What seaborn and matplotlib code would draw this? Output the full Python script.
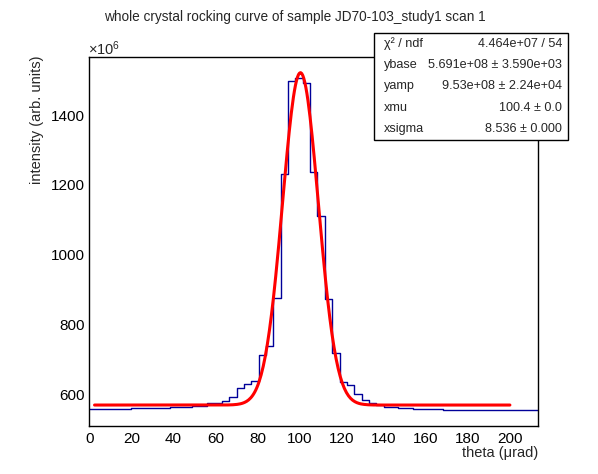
import numpy as np
import pandas as pd
import matplotlib
matplotlib.use("Agg")
import matplotlib.pyplot as plt
import seaborn as sns
from matplotlib.patches import Rectangle
from matplotlib.ticker import MultipleLocator

# ---- data (intensity in units of 1e6) ----
bin_edges = [0, 20, 38.6, 49, 56.2, 63, 66.5, 70, 73.5, 77, 80.5, 84, 87.5, 91,
             94.5, 98, 101.5, 105, 108.5, 112, 115.5, 119, 122.5, 126, 129.5,
             133, 136.5, 140, 147, 154, 168, 213.5]
bin_values = [557.4, 560.3, 563.2, 566.9, 574.7, 580.4, 591.9, 617.8, 630.2,
              638.8, 713.7, 737.6, 875.7, 1230.8, 1498.4, 1507.0, 1492.7,
              1236.5, 1109.9, 871.9, 718.6, 634.0, 627.3, 601.0, 582.2, 574.7,
              567.8, 564.9, 562.0, 559.1, 556.3]

# fit parameters shown in the stats box
fit_ybase = 569.1      # 5.691e+08
fit_yamp = 953.0       # 9.53e+08
fit_xmu = 100.4
fit_xsigma = 8.536
fit_range = [2.5, 200.0]

stat_names = ["χ² / ndf", "ybase", "yamp", "xmu", "xsigma"]
stat_values = ["4.464e+07 / 54", "5.691e+08 ± 3.590e+03",
               "9.53e+08 ± 2.24e+04", "100.4 ± 0.0",
               "8.536 ± 0.000"]

title = "whole crystal rocking curve of sample JD70-103_study1 scan 1"
xlabel = "theta (μrad)"
ylabel = "intensity (arb. units)"

# ---- build tables ----
edges = list(bin_edges)
centers = [0.5 * (a + b) for a, b in zip(bin_edges[:-1], bin_edges[1:])]
hist_df = pd.DataFrame({"theta": centers, "intensity": bin_values})

xf = np.linspace(fit_range[0], fit_range[1], 400)
yf = fit_ybase + fit_yamp * np.exp(-0.5 * ((xf - fit_xmu) / fit_xsigma) ** 2)
fit_df = pd.DataFrame({"theta": xf, "intensity": yf})

# ---- figure ----
sns.set_theme(style="white")
plt.rcParams["font.family"] = ["Liberation Sans", "DejaVu Sans"]
plt.rcParams["mathtext.fontset"] = "custom"
plt.rcParams["mathtext.rm"] = "Liberation Sans"
plt.rcParams["mathtext.it"] = "Liberation Sans"

W, H = 598, 474
fig = plt.figure(figsize=(W / 100, H / 100), dpi=100)
L, R, T, B = 89.3, 538.3, 57, 426
ax = fig.add_axes([L / W, 1 - B / H, (R - L) / W, (B - T) / H])

sns.histplot(data=hist_df, x="theta", weights="intensity", bins=edges,
             element="step", fill=False, color="#000099", linewidth=1.0, ax=ax)
sns.lineplot(data=fit_df, x="theta", y="intensity", color="#ff0000",
             linewidth=2.2, ax=ax)

ax.set_xlim(0, 213.5)
ax.set_ylim(509, 1567)
ax.set_xlabel("")
ax.set_ylabel("")

for s in ax.spines.values():
    s.set_color("black")
    s.set_linewidth(1.0)

ax.xaxis.set_major_locator(MultipleLocator(20))
ax.xaxis.set_minor_locator(MultipleLocator(5))
ax.yaxis.set_major_locator(MultipleLocator(200))
ax.yaxis.set_minor_locator(MultipleLocator(50))
ax.tick_params(axis="both", which="both", direction="in", color="black",
               top=False, right=False, labelsize=11, labelcolor="black")
ax.tick_params(axis="x", which="major", length=8, width=1, pad=4)
ax.tick_params(axis="x", which="minor", length=3.8, width=1)
ax.tick_params(axis="y", which="major", length=10, width=1, pad=3)
ax.tick_params(axis="y", which="minor", length=5.8, width=1)

# title and axis titles
fig.text(295 / W, 1 - 17 / H, title, ha="center", va="center", fontsize=9.8)
fig.text(R / W, 1 - 453 / H, xlabel, ha="right", va="center", fontsize=10.5)
fig.text(37 / W, 1 - 55 / H, ylabel, ha="center", va="top", rotation=90,
         fontsize=10.5)
fig.text(88 / W, 1 - 49 / H, "$\\times10^{6}$", ha="left", va="center",
         fontsize=10.5)

# stats box
bx0, by0, bx1, by1 = 374, 33, 568, 140
fig.add_artist(Rectangle((bx0 / W, 1 - by1 / H), (bx1 - bx0) / W,
                         (by1 - by0) / H, transform=fig.transFigure,
                         facecolor="white", edgecolor="black", linewidth=1.0,
                         zorder=5))
rowh = (by1 - by0) / len(stat_names)
for i, (nm, val) in enumerate(zip(stat_names, stat_values)):
    yc = by0 + rowh * (i + 0.5)
    fig.text(384 / W, 1 - yc / H, nm, ha="left", va="center", fontsize=9.1,
             zorder=6)
    fig.text(562 / W, 1 - yc / H, val, ha="right", va="center", fontsize=9.1,
             zorder=6)

fig.savefig("out.png", dpi=100, facecolor="white")
